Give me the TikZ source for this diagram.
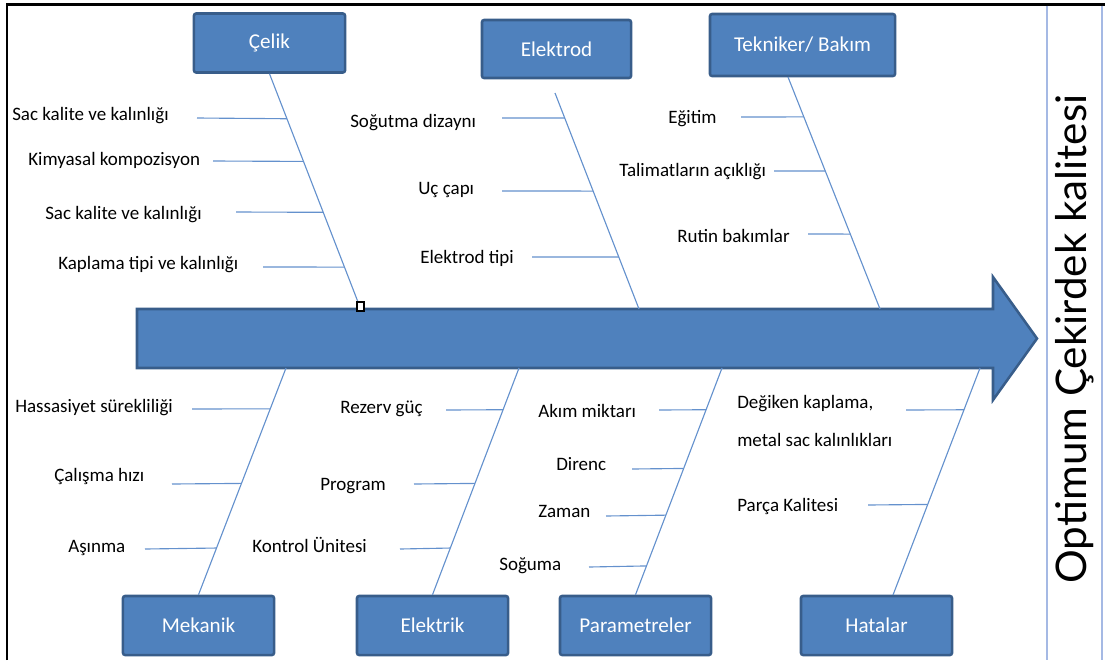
\documentclass[tikz,border=0pt]{standalone}
\usepackage{fontspec}
\setmainfont{Carlito}
\newfontfamily\titlefont{Lato}
\usetikzlibrary{calc}
\definecolor{CauseBlue}{RGB}{79,129,189}
\definecolor{CauseEdge}{RGB}{56,93,138}
\definecolor{BoneBlue}{RGB}{100,145,205}
\definecolor{GoalLine}{RGB}{165,185,228}
\tikzset{
    cause/.style={draw=CauseEdge, line width=1.8pt, rounded corners=1.5pt, fill=CauseBlue, minimum width=3.775cm, minimum height=1.475cm, inner sep=0pt, text=white, font=\fontsize{15}{18}\selectfont},
    item/.style={anchor=base west, inner sep=0pt, font=\fontsize{13.5}{16}\selectfont},
    bone/.style={draw=BoneBlue, line width=0.8pt},
    spine/.style={draw=CauseEdge, line width=1.8pt, fill=CauseBlue},
    goalline/.style={draw=GoalLine, line width=1.4pt},
}
\begin{document}
\begin{tikzpicture}[x=0.025cm, y=-0.025cm]
\useasboundingbox (0,0) rectangle (1105,660);
\draw[line width=1.5pt] (7,660) -- (7,4.5) -- (1105,4.5);
\draw[goalline] (1047,5.5) -- (1047,660);
\draw[goalline] (1102,5.5) -- (1102,660);
\node[rotate=90, font=\titlefont\fontsize{30}{36}\selectfont] (goal) at (1075,339) {Optimum Çekirdek kalitesi};

\draw[spine] (137,309) -- (993,309) -- (993,277) -- (1037,338.5) -- (993,400) -- (993,368) -- (137,368) -- cycle;

\node[cause] (celik) at (269.5,43) {Çelik};
\node[cause, minimum width=3.725cm, minimum height=1.45cm] (elektrod) at (556.5,49) {Elektrod};
\node[cause, minimum width=4.625cm, minimum height=1.55cm] (tekniker) at (802.5,45) {Tekniker/ Bakım};
\node[cause] (mekanik) at (198.5,625.5) {Mekanik};
\node[cause] (elektrik) at (432.5,625.5) {Elektrik};
\node[cause] (param) at (635.5,625.5) {Parametreler};
\node[cause] (hatalar) at (876.5,625.5) {Hatalar};

\coordinate (celikend) at (358,302);
\coordinate (elektrodtop) at (555,93);
\coordinate (elektrodend) at (639,309);
\coordinate (teknikertop) at (788,77);
\coordinate (teknikerend) at (880,309);
\coordinate (mekanikend) at (286,368);
\coordinate (elektrikend) at (519,368);
\coordinate (paramend) at (722,368);
\coordinate (hatalartop) at (893,595);
\coordinate (hatalarend) at (980,368);

\draw[bone] (celik.south) -- (celikend);
\draw[bone] (elektrodtop) -- (elektrodend);
\draw[bone] (teknikertop) -- (teknikerend);
\draw[bone] (mekanik.north) -- (mekanikend);
\draw[bone] (elektrik.north) -- (elektrikend);
\draw[bone] (param.north) -- (paramend);
\draw[bone] (hatalartop) -- (hatalarend);

\node[draw, fill=white, line width=0.8pt, minimum width=0.175cm, minimum height=0.225cm, inner sep=0pt] (handle) at (360.5,306.5) {};

\node[item] (c1) at (12,120) {Sac kalite ve kalınlığı};
\node[item] (c2) at (28,165) {Kimyasal kompozisyon};
\node[item] (c3) at (45,219) {Sac kalite ve kalınlığı};
\node[item] (c4) at (58,269) {Kaplama tipi ve kalınlığı};
\coordinate (c1a) at (197,118);
\coordinate (c2a) at (213,161);
\coordinate (c3a) at (236,212);
\coordinate (c4a) at (263,267);
\draw[bone] (c1a) -- ($(celik.south)!0.197!(celikend)$);
\draw[bone] (c2a) -- ($(celik.south)!0.384!(celikend)$);
\draw[bone] (c3a) -- ($(celik.south)!0.607!(celikend)$);
\draw[bone] (c4a) -- ($(celik.south)!0.847!(celikend)$);

\node[item] (e1) at (350,127) {Soğutma dizaynı};
\node[item] (e2) at (418,194) {Uç çapı};
\node[item] (e3) at (420,263) {Elektrod tipi};
\coordinate (e1a) at (502,118);
\coordinate (e2a) at (502,191);
\coordinate (e3a) at (532,257);
\draw[bone] (e1a) -- ($(elektrodtop)!0.116!(elektrodend)$);
\draw[bone] (e2a) -- ($(elektrodtop)!0.454!(elektrodend)$);
\draw[bone] (e3a) -- ($(elektrodtop)!0.759!(elektrodend)$);

\node[item] (t1) at (668,123) {Eğitim};
\node[item] (t2) at (619,176) {Talimatların açıklığı};
\node[item] (t3) at (677,242) {Rutin bakımlar};
\coordinate (t1a) at (741,117);
\coordinate (t2a) at (774,171);
\coordinate (t3a) at (808,234);
\draw[bone] (t1a) -- ($(teknikertop)!0.172!(teknikerend)$);
\draw[bone] (t2a) -- ($(teknikertop)!0.405!(teknikerend)$);
\draw[bone] (t3a) -- ($(teknikertop)!0.677!(teknikerend)$);

\node[item] (m1) at (15,412) {Hassasiyet sürekliliği};
\node[item] (m2) at (54,481) {Çalışma hızı};
\node[item] (m3) at (68,552) {Aşınma};
\coordinate (m1a) at (192,409);
\coordinate (m2a) at (172,484);
\coordinate (m3a) at (145,549);
\draw[bone] (m1a) -- ($(mekanik.north)!0.820!(mekanikend)$);
\draw[bone] (m2a) -- ($(mekanik.north)!0.491!(mekanikend)$);
\draw[bone] (m3a) -- ($(mekanik.north)!0.206!(mekanikend)$);

\node[item] (k1) at (340,413) {Rezerv güç};
\node[item] (k2) at (320,490) {Program};
\node[item] (k3) at (252,552) {Kontrol Ünitesi};
\coordinate (k1a) at (446,410);
\coordinate (k2a) at (414,484);
\coordinate (k3a) at (400,549);
\draw[bone] (k1a) -- ($(elektrik.north)!0.816!(elektrikend)$);
\draw[bone] (k2a) -- ($(elektrik.north)!0.491!(elektrikend)$);
\draw[bone] (k3a) -- ($(elektrik.north)!0.206!(elektrikend)$);

\node[item] (p1) at (538,417) {Akım miktarı};
\node[item] (p2) at (556,470) {Direnc};
\node[item] (p3) at (538,517) {Zaman};
\node[item] (p4) at (499,570) {Soğuma};
\coordinate (p1a) at (659,410);
\coordinate (p2a) at (632,469);
\coordinate (p3a) at (606,516);
\coordinate (p4a) at (589,567);
\draw[bone] (p1a) -- ($(param.north)!0.816!(paramend)$);
\draw[bone] (p2a) -- ($(param.north)!0.557!(paramend)$);
\draw[bone] (p3a) -- ($(param.north)!0.351!(paramend)$);
\draw[bone] (p4a) -- ($(param.north)!0.127!(paramend)$);

\node[item, align=left, font=\fontsize{13.5}{27}\selectfont] (h1) at (737,446) {Değiken kaplama,\\metal sac kalınlıkları};
\node[item] (h2) at (737,511) {Parça Kalitesi};
\coordinate (h1a) at (906,410);
\coordinate (h2a) at (868,505);
\draw[bone] (h1a) -- ($(hatalartop)!0.816!(hatalarend)$);
\draw[bone] (h2a) -- ($(hatalartop)!0.399!(hatalarend)$);
\end{tikzpicture}
\end{document}
